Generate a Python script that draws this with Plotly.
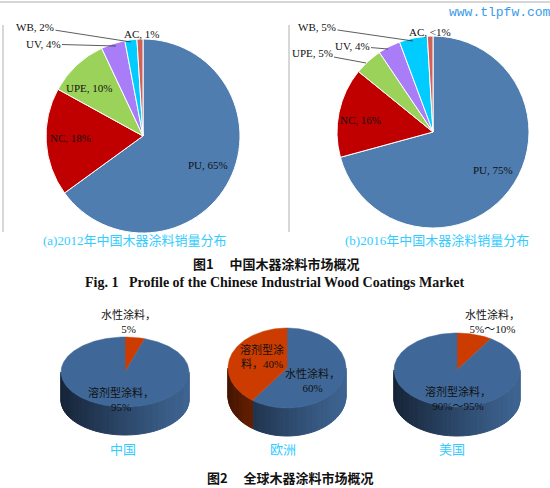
import numpy as np
import plotly.graph_objects as go

W, H = 550, 488

# ---------------- Fig. 1 data ----------------
coat_types = ["PU", "NC", "UPE", "UV", "WB", "AC"]
vals_2012 = [65, 18, 10, 4, 2, 1]
vals_2016 = [75, 16, 5, 4, 5, 1]
text_2012 = ["PU, 65%", "NC, 18%", "UPE, 10%", "UV, 4%", "WB, 2%", "AC, 1%"]
text_2016 = ["PU, 75%", "NC, 16%", "UPE, 5%", "UV, 4%", "WB, 5%", "AC, &lt;1%"]
slice_colors = ["#4F7DB0", "#C00000", "#9BD35A", "#A97CF8", "#00CCFF", "#D0605A"]

# ---------------- Fig. 2 data ----------------
regions = ["中国", "欧洲", "美国"]
water_share = [5, 60, 9]
solvent_share = [95, 40, 91]
water_text = ["水性涂料，<br>5%", "水性涂料，<br>60%", "水性涂料，<br>5%～10%"]
solvent_text = ["溶剂型涂料，<br>95%", "溶剂型涂<br>料，40%", "溶剂型涂料，<br>90%～95%"]
water_is_blue = [False, True, False]

SERIF = "Liberation Serif, Times New Roman, Noto Sans CJK SC"
CJK = "Noto Sans CJK SC, sans-serif"
BLUE_TOP = (63, 104, 152)
ORANGE_TOP = (204, 60, 0)
BLUE_SIDE = [(62, 100, 145), (22, 36, 56)]
ORANGE_SIDE = [(200, 58, 0), (70, 22, 0)]

fig = go.Figure()


def dom(cx, cy, r):
    return dict(x=[(cx - r) / W, (cx + r) / W], y=[1 - (cy + r) / H, 1 - (cy - r) / H])


for vals, (cx, cy, r) in [(vals_2012, (143, 136, 97)), (vals_2016, (433, 132, 96))]:
    fig.add_trace(go.Pie(
        labels=coat_types, values=vals, sort=False, direction="clockwise", rotation=0,
        marker=dict(colors=slice_colors, line=dict(color="white", width=1)),
        textinfo="none", hoverinfo="skip", showlegend=False, domain=dom(cx, cy, r)))


def rgb(c):
    return "rgb(%d,%d,%d)" % tuple(int(round(v)) for v in c)


def pt(cx, cy, rx, ry, th):
    t = np.radians(th)
    return cx + rx * np.sin(t), cy - ry * np.cos(t)


def pie3d(cx, cy, rx, ry, depth, vals, tops, sides):
    total = float(sum(vals))
    bounds = [0.0]
    for v in vals:
        bounds.append(bounds[-1] + 360.0 * v / total)
    # side wall (front half, 90..270 deg clockwise from top)
    N = 60
    for i in range(N):
        a = 90 + 180.0 * i / N
        b = 90 + 180.0 * (i + 1) / N
        m = (a + b) / 2
        k = max(j for j in range(len(vals)) if bounds[j] <= m)
        xa, ya = pt(cx, cy, rx, ry, a)
        xb, yb = pt(cx, cy, rx, ry, b)
        t = 1 - ((xa + xb) / 2 - (cx - rx)) / (2 * rx)
        lo, hi = sides[k]
        col = [lo[c] + (hi[c] - lo[c]) * t ** 1.2 for c in range(3)]
        fig.add_trace(go.Scatter(
            x=[xa, xb, xb, xa, xa], y=[ya, yb, yb + depth, ya + depth, ya],
            mode="lines", fill="toself", fillcolor=rgb(col),
            line=dict(color=rgb(col), width=1), hoverinfo="skip", showlegend=False))
    # top face slices
    for k in range(len(vals)):
        ths = np.linspace(bounds[k], bounds[k + 1], max(3, int(bounds[k + 1] - bounds[k]) + 2))
        xs = [cx] + [pt(cx, cy, rx, ry, th)[0] for th in ths] + [cx]
        ys = [cy] + [pt(cx, cy, rx, ry, th)[1] for th in ths] + [cy]
        fig.add_trace(go.Scatter(
            x=xs, y=ys, mode="lines", fill="toself", fillcolor=rgb(tops[k]),
            line=dict(color=rgb(tops[k]), width=0.5), hoverinfo="skip", showlegend=False))


geo3d = [(125, 372, 64, 35, 28), (287, 368, 59, 40, 28), (457, 370, 63, 37, 29)]
for i, (cx, cy, rx, ry, d) in enumerate(geo3d):
    if water_is_blue[i]:
        tops = [BLUE_TOP, ORANGE_TOP]
        sides = [BLUE_SIDE, ORANGE_SIDE]
    else:
        tops = [ORANGE_TOP, BLUE_TOP]
        sides = [ORANGE_SIDE, BLUE_SIDE]
    pie3d(cx, cy, rx, ry, d, [water_share[i], solvent_share[i]], tops, sides)

ann = []


def label(x, y, text, size=11, color="#111111", family=SERIF, **kw):
    d = dict(x=x, y=y, xref="x", yref="y", text=text, showarrow=False,
             font=dict(size=size, color=color, family=family))
    d.update(kw)
    ann.append(d)


def leader(tx, ty, px, py, text):
    ann.append(dict(x=px, y=py, ax=tx, ay=ty, xref="x", yref="y", axref="x", ayref="y",
                    text=text, showarrow=True, arrowhead=0, arrowwidth=0.8,
                    arrowcolor="#333333", standoff=0, startstandoff=0,
                    font=dict(size=11, color="#111111", family=SERIF)))


# Fig 1 (a) labels
leader(35, 27, 131, 42, text_2012[4])
leader(43, 44, 116, 46, text_2012[3])
label(141, 34, text_2012[5])
label(89, 88, text_2012[2])
label(70, 138, text_2012[1])
label(208, 165, text_2012[0])
# Fig 1 (b) labels
leader(317, 27, 413, 41, text_2016[4])
leader(352, 46, 388, 49, text_2016[3])
leader(312, 53, 366, 63, text_2016[2])
label(430, 32, text_2016[5])
label(360, 120, text_2016[1])
label(493, 170, text_2016[0])

label(134, 240, "(a)2012年中国木器涂料销量分布", size=13, color="#33CCFF")
label(437, 240, "(b)2016年中国木器涂料销量分布", size=13, color="#33CCFF")
label(276, 263, "<b>图1　 中国木器涂料市场概况</b>", size=13, color="#111111", family=CJK)
label(274, 282, "<b>Fig. 1   Profile of the Chinese Industrial Wood Coatings Market</b>",
      size=14, color="#111111")
label(500, 12, "www.tlpfw.com", size=13, color="#3A9BEA",
      family="Liberation Mono, DejaVu Sans Mono, monospace")

# Fig 2 labels
water_pos = [(128, 321), (312, 380), (492, 321)]
solv_pos = [(121, 399), (262, 356), (458, 398)]
for i in range(3):
    label(*water_pos[i], water_text[i], size=11)
    label(*solv_pos[i], solvent_text[i], size=11)
country_pos = [(123, 449), (283, 449), (452, 449)]
for i in range(3):
    label(*country_pos[i], regions[i], size=13, color="#33CCFF")
label(290, 477, "<b>图2　 全球木器涂料市场概况</b>", size=13, color="#111111", family=CJK)

shapes = [
    dict(type="line", xref="x", yref="y", x0=0, x1=550, y0=2, y1=2,
         line=dict(color="#c8c8c8", width=1.5)),
    dict(type="line", xref="x", yref="y", x0=3, x1=3, y0=25, y1=232,
         line=dict(color="#b0b0b0", width=1)),
    dict(type="line", xref="x", yref="y", x0=289, x1=289, y0=25, y1=232,
         line=dict(color="#b0b0b0", width=1)),
]

fig.update_layout(
    width=W, height=H, margin=dict(l=0, r=0, t=0, b=0),
    paper_bgcolor="white", plot_bgcolor="white", showlegend=False,
    xaxis=dict(range=[0, W], domain=[0, 1], visible=False, fixedrange=True),
    yaxis=dict(range=[H, 0], domain=[0, 1], visible=False, fixedrange=True),
    annotations=ann, shapes=shapes,
)

fig.write_html("out.html")
